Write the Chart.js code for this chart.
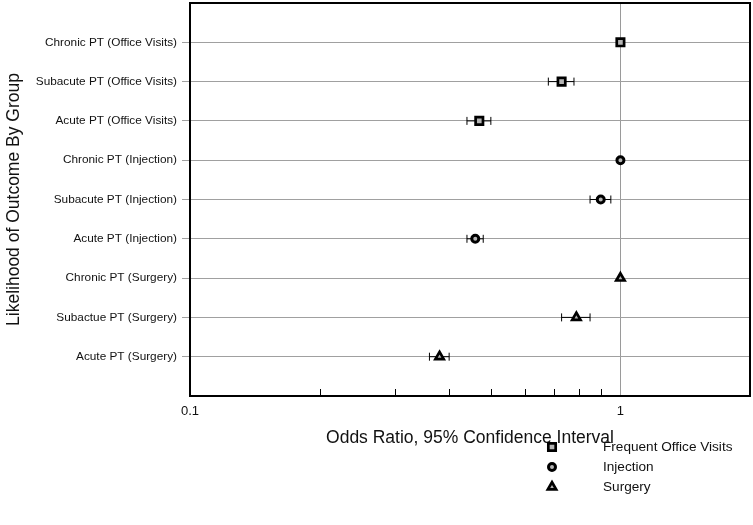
<!DOCTYPE html>
<html>
<head>
<meta charset="utf-8">
<script src="https://cdn.jsdelivr.net/npm/chart.js@4/dist/chart.umd.min.js"></script>
<style>
  html, body { margin: 0; padding: 0; background: #fff; }
  #wrap { width: 753px; height: 525px; }
</style>
</head>
<body>
<div id="wrap"><canvas id="c" width="753" height="525"></canvas></div>
<script>
// ---- data ----
const categories = [
  'Chronic PT (Office Visits)',
  'Subacute PT (Office Visits)',
  'Acute PT (Office Visits)',
  'Chronic PT (Injection)',
  'Subacute PT (Injection)',
  'Acute PT (Injection)',
  'Chronic PT (Surgery)',
  'Subactue PT (Surgery)',
  'Acute PT (Surgery)'
];
const oddsRatio = [1.0, 0.73, 0.47, 1.0, 0.90, 0.46, 1.0, 0.79, 0.38];
const ciLower   = [null, 0.68, 0.44, null, 0.85, 0.44, null, 0.73, 0.36];
const ciUpper   = [null, 0.78, 0.50, null, 0.95, 0.48, null, 0.85, 0.40];
const seriesNames = ['Frequent Office Visits', 'Injection', 'Surgery'];
const seriesRows = [[0, 1, 2], [3, 4, 5], [6, 7, 8]];
const xTickLabels = [0.1, 1];
const xMinorTicks = [0.2, 0.3, 0.4, 0.5, 0.6, 0.7, 0.8, 0.9];

// ---- styles ----
const FONT = '"Liberation Sans", Arial, Helvetica, sans-serif';
const styles = [
  { pointStyle: 'rect', radius: 5.2, border: 2.7 },
  { pointStyle: 'circle', radius: 3.5, border: 3 },
  { pointStyle: 'triangle', radius: 4.8, border: 2.7 }
];
const N = categories.length;
const yOf = i => N - i;

const datasets = [];
seriesNames.forEach((name, s) => {
  datasets.push({
    label: name,
    data: seriesRows[s].map(i => ({ x: oddsRatio[i], y: yOf(i) })),
    showLine: false,
    pointStyle: styles[s].pointStyle,
    pointRadius: styles[s].radius,
    pointHoverRadius: styles[s].radius,
    pointBackgroundColor: '#b5b5b5',
    pointBorderColor: '#000',
    pointBorderWidth: styles[s].border,
    order: 0
  });
});
categories.forEach((c, i) => {
  if (ciLower[i] == null) return;
  datasets.push({
    label: 'ci',
    data: [{ x: ciLower[i], y: yOf(i) }, { x: ciUpper[i], y: yOf(i) }],
    showLine: true,
    borderColor: '#000',
    borderWidth: 1,
    pointStyle: 'line',
    rotation: 90,
    pointRadius: 4,
    pointHoverRadius: 4,
    pointBorderColor: '#000',
    pointBorderWidth: 1,
    order: 5
  });
});

const framePlugin = {
  id: 'frame',
  beforeDatasetsDraw(chart) {
    const { ctx, chartArea: a, scales } = chart;
    ctx.save();
    ctx.strokeStyle = '#000';
    ctx.lineWidth = 1;
    xMinorTicks.forEach(v => {
      const px = Math.round(scales.x.getPixelForValue(v)) + 0.5;
      ctx.beginPath();
      ctx.moveTo(px, a.bottom);
      ctx.lineTo(px, a.bottom - 7);
      ctx.stroke();
    });
    ctx.lineWidth = 2;
    ctx.strokeRect(a.left, a.top, a.right - a.left, a.bottom - a.top);
    ctx.restore();
  },
  afterDraw(chart) {
    const { ctx } = chart;
    const lx = 552, tx = 603, y0 = 447, dy = 20;
    ctx.save();
    seriesNames.forEach((name, s) => {
      const ds = chart.data.datasets[s];
      const y = y0 + s * dy;
      ctx.fillStyle = ds.pointBackgroundColor;
      ctx.strokeStyle = ds.pointBorderColor;
      ctx.lineWidth = ds.pointBorderWidth;
      Chart.helpers.drawPoint(ctx, { pointStyle: ds.pointStyle, radius: ds.pointRadius, rotation: 0, borderWidth: ds.pointBorderWidth }, lx, y);
      ctx.fillStyle = '#111';
      ctx.font = '13.6px ' + FONT;
      ctx.textBaseline = 'middle';
      ctx.textAlign = 'left';
      ctx.fillText(name, tx, y);
    });
    ctx.restore();
  }
};

new Chart(document.getElementById('c'), {
  type: 'scatter',
  data: { datasets },
  plugins: [framePlugin],
  options: {
    responsive: false,
    animation: false,
    layout: { autoPadding: false, padding: { left: 0, top: 3, right: 3, bottom: 74 } },
    plugins: {
      legend: { display: false },
      tooltip: { enabled: false }
    },
    scales: {
      x: {
        type: 'logarithmic',
        min: 0.1,
        max: 2,
        afterBuildTicks: s => { s.ticks = xTickLabels.map(v => ({ value: v })); },
        afterFit: s => { s.height = 55; s.paddingLeft = 0; s.paddingRight = 0; },
        border: { display: false },
        grid: {
          drawTicks: false,
          color: c => (c.tick && c.tick.value === 1 ? '#9a9a9a' : 'rgba(0,0,0,0)'),
          lineWidth: 1
        },
        ticks: {
          padding: 8,
          color: '#111',
          font: { family: FONT, size: 13 },
          maxRotation: 0,
          autoSkip: false,
          callback: v => String(v)
        },
        title: {
          display: true,
          text: 'Odds Ratio, 95% Confidence Interval',
          color: '#111',
          font: { family: FONT, size: 17.5 },
          padding: { top: 0, bottom: 2 }
        }
      },
      y: {
        type: 'linear',
        min: 0,
        max: N + 1,
        afterBuildTicks: s => {
          const t = [];
          for (let v = 0; v <= N + 1; v++) t.push({ value: v });
          s.ticks = t;
        },
        afterFit: s => { s.width = 190; s.paddingTop = 0; s.paddingBottom = 0; },
        border: { display: false },
        grid: {
          drawTicks: true,
          tickLength: 8,
          color: c => (c.tick && c.tick.value >= 1 && c.tick.value <= N ? '#a0a0a0' : 'rgba(0,0,0,0)'),
          tickColor: c => (c.tick && c.tick.value >= 1 && c.tick.value <= N ? '#a0a0a0' : 'rgba(0,0,0,0)'),
          lineWidth: 1
        },
        ticks: {
          padding: 5,
          autoSkip: false,
          color: '#111',
          font: { family: FONT, size: 11.8 },
          callback: v => (v >= 1 && v <= N ? categories[N - v] : '')
        },
        title: {
          display: true,
          text: 'Likelihood of Outcome By Group',
          color: '#111',
          font: { family: FONT, size: 17.5 },
          padding: { top: 4, bottom: 0 }
        }
      }
    }
  }
});
</script>
</body>
</html>
